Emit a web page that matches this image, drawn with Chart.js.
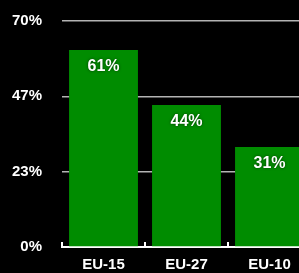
<!DOCTYPE html>
<html>
<head>
<meta charset="utf-8">
<script src="https://cdn.jsdelivr.net/npm/chart.js@4/dist/chart.umd.min.js"></script>
<style>
  html, body { margin: 0; padding: 0; background: #000; overflow: hidden; }
  #wrap { width: 299px; height: 273px; overflow: hidden; }
</style>
</head>
<body>
<div id="wrap"><canvas id="chart" width="312" height="273"></canvas></div>
<script>
const categories = ["EU-15", "EU-27", "EU-10"];
const values = [61, 44, 31];
const valueLabels = ["61%", "44%", "31%"];
const yTicks = [0, 70 / 3, 140 / 3, 70];
const yTickLabels = ["0%", "23%", "47%", "70%"];

const GREEN = "#008c00";
const FONT = "'Liberation Sans', Arial, sans-serif";

// white value labels near the top of each bar
const barLabels = {
  id: "barLabels",
  afterDatasetsDraw(chart) {
    const ctx = chart.ctx;
    const meta = chart.getDatasetMeta(0);
    ctx.save();
    ctx.font = "bold 16px " + FONT;
    ctx.fillStyle = "#fff";
    ctx.textAlign = "center";
    ctx.textBaseline = "middle";
    ctx.shadowColor = "rgba(0,0,0,0.6)";
    ctx.shadowBlur = 3;
    meta.data.forEach((bar, i) => {
      ctx.fillText(valueLabels[i], bar.x, bar.y + 17);
    });
    ctx.restore();
  },
};

new Chart(document.getElementById("chart"), {
  type: "bar",
  data: {
    labels: categories,
    datasets: [
      {
        data: values,
        backgroundColor: GREEN,
        borderWidth: 0,
        barPercentage: 0.83,
        categoryPercentage: 1,
      },
    ],
  },
  options: {
    responsive: false,
    animation: false,
    devicePixelRatio: 1,
    layout: { padding: { left: 0, top: 21, right: 1, bottom: 0 } },
    plugins: { legend: { display: false }, tooltip: { enabled: false } },
    scales: {
      x: {
        border: { display: true, color: "#fff", width: 2 },
        grid: {
          display: true,
          drawOnChartArea: false,
          color: "#fff",
          lineWidth: 2,
          tickLength: -5,
        },
        afterFit(scale) {
          scale.height = 26;
          scale.paddingLeft = 0;
          scale.paddingRight = 0;
        },
        ticks: {
          color: "#fff",
          padding: 14,
          font: { family: FONT, size: 15, weight: "bold" },
        },
      },
      y: {
        min: 0,
        max: 70,
        border: { display: false },
        grid: { color: "#b4b4b4", lineWidth: 1.5, drawTicks: false },
        afterBuildTicks(scale) {
          scale.ticks = yTicks.map((v) => ({ value: v }));
        },
        afterFit(scale) {
          scale.width = 62;
          scale.paddingTop = 0;
          scale.paddingBottom = 0;
        },
        ticks: {
          color: "#fff",
          padding: 20,
          font: { family: FONT, size: 15, weight: "bold" },
          callback: (v, i) => yTickLabels[i],
        },
      },
    },
  },
  plugins: [barLabels],
});
</script>
</body>
</html>
